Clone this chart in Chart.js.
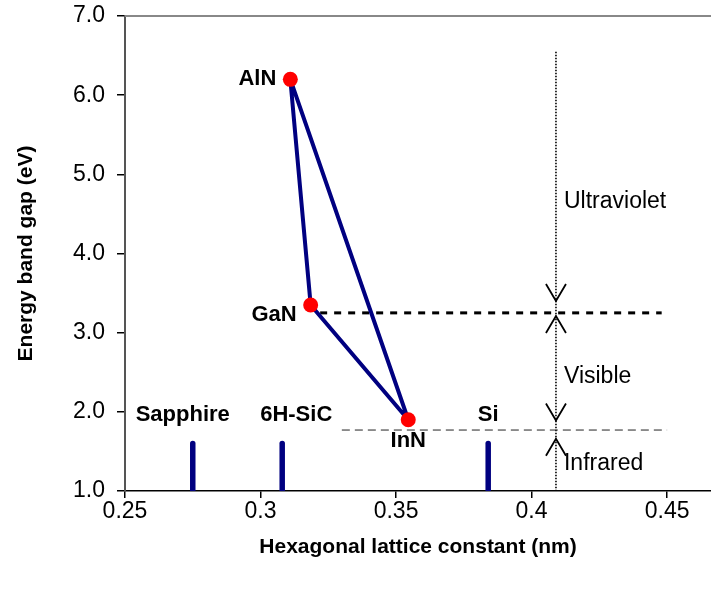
<!DOCTYPE html>
<html>
<head>
<meta charset="utf-8">
<title>Band gap vs lattice constant</title>
<script src="https://cdn.jsdelivr.net/npm/chart.js@4"></script>
<style>
    html, body { margin: 0; padding: 0; background: #fff; }
</style>
</head>
<body>
<canvas id="chart" width="711" height="589"></canvas>
<script>
// nitride compounds
const materials = ['AlN', 'GaN', 'InN'];
const latticeConst = [0.311, 0.3185, 0.3545];
const bandGap = [6.2, 3.35, 1.9];

// substrates (short bars from the axis)
const substrates = ['Sapphire', '6H-SiC', 'Si'];
const substrateLattice = [0.275, 0.308, 0.384];
const substrateTop = 1.6;

// spectral regions
const bandNames = ['Ultraviolet', 'Visible', 'Infrared'];
const bandLabelY = [4.65, 2.45, 1.35];
const edgeUV = 3.25;
const edgeUVx = [0.322, 0.448];
const edgeIR = 1.77;
const edgeIRx = [0.330, 0.450];
const dividerX = 0.409;
const dividerTop = 6.55;
const arrowDownTips = [3.40, 1.89];
const arrowUpTips = [3.21, 1.66];

// axes
const xTicks = [0.25, 0.3, 0.35, 0.4, 0.45];
const yTicks = [1, 2, 3, 4, 5, 6, 7];
const xMin = 0.25, xMax = 0.4662;
const yMin = 1, yMax = 7;

const FONT = 'Liberation Sans, Arial, sans-serif';
const NAVY = '#000080';

// =========================
// DATASETS
// =========================
const pts = materials.map((m, i) => ({ x: latticeConst[i], y: bandGap[i] }));

const datasets = [
    {
        label: 'points',
        data: pts,
        backgroundColor: '#ff0000',
        borderWidth: 0,
        pointRadius: 7.5,
        showLine: false
    },
    {
        label: 'triangle',
        data: [pts[0], pts[1], pts[2], pts[0]],
        borderColor: NAVY,
        borderWidth: 4,
        pointRadius: 0,
        showLine: true,
        borderJoinStyle: 'round'
    }
];

substrates.forEach((s, i) => {
    datasets.push({
        label: s,
        data: [{ x: substrateLattice[i], y: yMin }, { x: substrateLattice[i], y: substrateTop }],
        borderColor: NAVY,
        borderWidth: 5.5,
        borderCapStyle: 'round',
        pointRadius: 0,
        showLine: true
    });
});

datasets.push({
    label: 'uv edge',
    data: [{ x: edgeUVx[0], y: edgeUV }, { x: edgeUVx[1], y: edgeUV }],
    borderColor: '#000',
    borderWidth: 3,
    borderDash: [7, 7],
    pointRadius: 0,
    showLine: true
});

datasets.push({
    label: 'ir edge',
    data: [{ x: edgeIRx[0], y: edgeIR }, { x: edgeIRx[1], y: edgeIR }],
    borderColor: '#222',
    borderWidth: 1,
    borderDash: [8, 5],
    pointRadius: 0,
    showLine: true
});

datasets.push({
    label: 'divider',
    data: [{ x: dividerX, y: dividerTop }, { x: dividerX, y: yMin }],
    borderColor: '#000',
    borderWidth: 1.6,
    borderDash: [1.6, 1.4],
    pointRadius: 0,
    showLine: true
});

// =========================
// ANNOTATIONS PLUGIN
// =========================
const annotations = {
    id: 'annotations',
    afterDatasetsDraw(chart) {
        const { ctx, chartArea, scales: { x, y } } = chart;
        ctx.save();

        // top border of plot area
        ctx.strokeStyle = '#888';
        ctx.lineWidth = 2;
        ctx.beginPath();
        ctx.moveTo(chartArea.left, chartArea.top);
        ctx.lineTo(chartArea.right, chartArea.top);
        ctx.stroke();

        // arrow heads on the divider
        const dx = x.getPixelForValue(dividerX);
        ctx.strokeStyle = '#000';
        ctx.lineWidth = 1.8;
        const chevron = (py, dir) => {
            ctx.beginPath();
            ctx.moveTo(dx - 10, py - dir * 17);
            ctx.lineTo(dx, py);
            ctx.lineTo(dx + 10, py - dir * 17);
            ctx.stroke();
        };
        arrowDownTips.forEach(v => chevron(y.getPixelForValue(v), 1));
        arrowUpTips.forEach(v => chevron(y.getPixelForValue(v), -1));

        // material labels
        const matOffsets = [[-14, 0, 'right'], [-14, 10, 'right'], [0, 21, 'center']];
        ctx.fillStyle = '#000';
        ctx.font = 'bold 22px ' + FONT;
        ctx.textBaseline = 'middle';
        materials.forEach((m, i) => {
            const o = matOffsets[i];
            ctx.textAlign = o[2];
            ctx.fillText(m, x.getPixelForValue(latticeConst[i]) + o[0], y.getPixelForValue(bandGap[i]) + o[1]);
        });

        // substrate labels
        const subOffsets = [-10, 14, 0];
        ctx.textAlign = 'center';
        substrates.forEach((s, i) => {
            ctx.fillText(s, x.getPixelForValue(substrateLattice[i]) + subOffsets[i], y.getPixelForValue(substrateTop) - 29);
        });

        // region labels
        ctx.font = '23px ' + FONT;
        ctx.textAlign = 'left';
        bandNames.forEach((b, i) => {
            ctx.fillText(b, dx + 8, y.getPixelForValue(bandLabelY[i]));
        });

        ctx.restore();
    }
};

// =========================
// CHART
// =========================
new Chart(document.getElementById('chart'), {
    type: 'scatter',
    data: { datasets },
    options: {
        responsive: false,
        animation: false,
        events: [],
        layout: { autoPadding: false, padding: { top: 16, right: 0, bottom: 0, left: 0 } },
        plugins: { legend: { display: false }, tooltip: { enabled: false } },
        scales: {
            x: {
                type: 'linear',
                min: xMin,
                max: xMax,
                afterBuildTicks: s => { s.ticks = xTicks.map(v => ({ value: v })); },
                afterFit: s => { s.height = 98; s.paddingLeft = 0; s.paddingRight = 0; },
                ticks: {
                    color: '#000',
                    font: { family: FONT, size: 23 },
                    padding: 0,
                    maxRotation: 0,
                    callback: v => String(v)
                },
                grid: { drawOnChartArea: false, color: '#000', lineWidth: 1.5, tickLength: 7 },
                border: { color: '#000', width: 1.5 },
                title: {
                    display: true,
                    text: 'Hexagonal lattice constant (nm)',
                    color: '#000',
                    font: { family: FONT, size: 21, weight: 'bold' },
                    padding: { top: 0, bottom: 29 }
                }
            },
            y: {
                type: 'linear',
                min: yMin,
                max: yMax,
                afterBuildTicks: s => { s.ticks = yTicks.map(v => ({ value: v })); },
                afterFit: s => { s.width = 125; s.paddingTop = 0; s.paddingBottom = 0; },
                ticks: {
                    color: '#000',
                    font: { family: FONT, size: 23 },
                    padding: 12,
                    callback: v => v.toFixed(1)
                },
                grid: { drawOnChartArea: false, color: '#000', lineWidth: 1.5, tickLength: 8 },
                border: { color: '#555', width: 2 },
                title: {
                    display: true,
                    text: 'Energy band gap (eV)',
                    color: '#000',
                    font: { family: FONT, size: 21, weight: 'bold' },
                    padding: { top: 14, bottom: 0 }
                }
            }
        }
    },
    plugins: [annotations]
});
</script>
</body>
</html>
